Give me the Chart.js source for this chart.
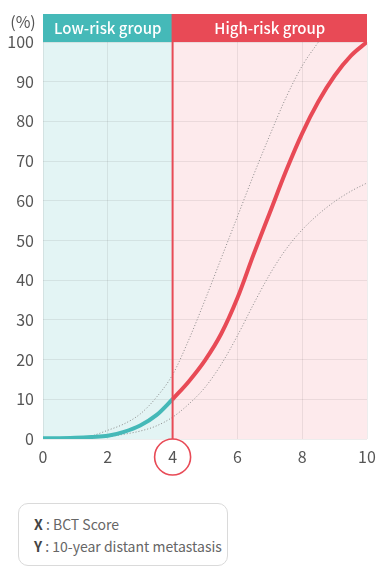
<!DOCTYPE html>
<html>
<head>
<meta charset="utf-8">
<script src="https://cdn.jsdelivr.net/npm/chart.js@4"></script>
<style>
  html, body { margin: 0; padding: 0; background: #fff; }
  body { width: 386px; height: 583px; position: relative; overflow: hidden; font-family: "Noto Sans CJK KR", "Noto Sans", sans-serif; }
  #wrap { position: absolute; left: 0; top: 0; width: 386px; height: 480px; }
  .note {
    position: absolute; left: 18px; top: 503px; width: 208px; height: 61px;
    border: 1px solid #dadada; border-radius: 10px; box-sizing: content-box;
    color: #666; font-size: 14px; line-height: 22px; white-space: nowrap;
  }
  .note div { padding-left: 15px; }
  .note div:first-child { margin-top: 9px; }
  .note b { color: #444; font-weight: 700; }
</style>
</head>
<body>
<div id="wrap"><canvas id="riskChart" width="386" height="480"></canvas></div>
<div class="note">
  <div><b>X</b> : BCT Score</div>
  <div><b>Y</b> : 10-year distant metastasis</div>
</div>
<script>
// BCT score (x) and 10-year distant metastasis (%)
const lowScores   = [0, 0.5, 1, 1.5, 2, 2.5, 3, 3.5, 4];
const lowRisk     = [0.2, 0.2, 0.3, 0.5, 0.8, 1.8, 3.4, 6, 10];
const highScores  = [4, 4.5, 5, 5.5, 6, 6.5, 7, 7.5, 8, 8.5, 9, 9.5, 10];
const highRisk    = [10, 14.5, 19.8, 26.5, 35.5, 46.5, 57, 67.5, 77, 85, 91.5, 96.5, 100];

const upperScores = [0, 0.5, 1, 1.5, 2, 2.5, 3, 3.5, 4, 4.5, 5, 5.5, 6, 6.5, 7, 7.5, 8, 8.5];
const upperBound  = [0, 0, 0.2, 0.8, 2.2, 3.8, 6.3, 10.5, 16.2, 25, 35, 45.5, 56, 66.5, 76.5, 86, 94, 100];
const lowerScores = [0, 0.5, 1, 1.5, 2, 2.5, 3, 3.5, 4, 4.5, 5, 5.5, 6, 6.5, 7, 7.5, 8, 8.5, 9, 9.5, 10];
const lowerBound  = [0, 0, 0.1, 0.3, 0.6, 1.2, 2, 3.3, 5.5, 8.8, 13, 18.8, 26, 34, 41.5, 47.8, 52.7, 56.6, 59.8, 62.4, 64.5];

const xTicks = [0, 2, 4, 6, 8, 10];
const yTicks = [0, 10, 20, 30, 40, 50, 60, 70, 80, 90, 100];
const cutoffScore = 4;
const groupLabels = ["Low-risk group", "High-risk group"];

const TEAL = "#45b9b8";
const RED = "#e84a56";
const FONT = "'Noto Sans CJK KR', 'Noto Sans', sans-serif";

function pts(xs, ys) {
    return xs.map((x, i) => ({ x: x, y: ys[i] }));
}

// bands, header and the cutoff marker
const riskZones = {
    id: "riskZones",
    beforeDraw(chart) {
        const { ctx, chartArea: a, scales: { x } } = chart;
        const cx = x.getPixelForValue(cutoffScore);
        ctx.save();
        ctx.fillStyle = "#e3f4f4";
        ctx.fillRect(a.left, a.top, cx - a.left, a.bottom - a.top);
        ctx.fillStyle = "#fdeaec";
        ctx.fillRect(cx, a.top, a.right - cx, a.bottom - a.top);
        ctx.restore();
    },
    afterDraw(chart) {
        const { ctx, chartArea: a, scales: { x } } = chart;
        const cx = x.getPixelForValue(cutoffScore);
        const top = 14;
        ctx.save();
        // header
        ctx.fillStyle = TEAL;
        ctx.fillRect(a.left, top, cx - a.left, a.top - top);
        ctx.fillStyle = RED;
        ctx.fillRect(cx, top, a.right - cx, a.top - top);
        ctx.fillStyle = "#fff";
        ctx.font = "500 15px " + FONT;
        ctx.textAlign = "center";
        ctx.textBaseline = "middle";
        ctx.fillText(groupLabels[0], (a.left + cx) / 2, (top + a.top) / 2);
        ctx.fillText(groupLabels[1], (cx + a.right) / 2, (top + a.top) / 2);
        // (%) unit
        ctx.fillStyle = "#555";
        ctx.font = "16px " + FONT;
        ctx.fillText("(%)", 23, 22);
        // cutoff line + circled tick
        const r = 18, cy = a.bottom + r;
        ctx.strokeStyle = RED;
        ctx.lineWidth = 2;
        ctx.beginPath();
        ctx.moveTo(cx, top);
        ctx.lineTo(cx, a.bottom);
        ctx.stroke();
        ctx.lineWidth = 1.6;
        ctx.beginPath();
        ctx.arc(cx, cy, r, 0, Math.PI * 2);
        ctx.stroke();
        ctx.restore();
    }
};

const ctx = document.getElementById("riskChart").getContext("2d");
new Chart(ctx, {
    type: "line",
    data: {
        datasets: [
            {
                data: pts(lowScores, lowRisk),
                borderColor: TEAL,
                borderWidth: 4,
                cubicInterpolationMode: "monotone",
                order: 1
            },
            {
                data: pts(highScores, highRisk),
                borderColor: RED,
                borderWidth: 4,
                cubicInterpolationMode: "monotone",
                order: 0
            },
            {
                data: pts(upperScores, upperBound),
                borderColor: "#8a8a8a",
                borderWidth: 1,
                borderDash: [1, 2],
                cubicInterpolationMode: "monotone",
                order: 3
            },
            {
                data: pts(lowerScores, lowerBound),
                borderColor: "#8a8a8a",
                borderWidth: 1,
                borderDash: [1, 2],
                cubicInterpolationMode: "monotone",
                order: 3
            }
        ]
    },
    options: {
        responsive: false,
        animation: false,
        devicePixelRatio: 1,
        elements: { point: { radius: 0 } },
        layout: { padding: { top: 42, right: 19, left: 0, bottom: 0 } },
        plugins: {
            legend: { display: false },
            tooltip: { enabled: false }
        },
        scales: {
            x: {
                type: "linear",
                min: 0,
                max: 10,
                afterBuildTicks: (s) => { s.ticks = xTicks.map(v => ({ value: v })); },
                afterFit: (s) => { s.height = 41; },
                ticks: { color: "#555", font: { family: FONT, size: 16 }, padding: 8, maxRotation: 0 },
                grid: { color: "rgba(0,0,0,0.07)", drawTicks: false },
                border: { display: false }
            },
            y: {
                min: 0,
                max: 100,
                afterBuildTicks: (s) => { s.ticks = yTicks.map(v => ({ value: v })); },
                afterFit: (s) => { s.width = 43; },
                ticks: { color: "#555", font: { family: FONT, size: 16 }, padding: 9 },
                grid: { color: "rgba(0,0,0,0.07)", drawTicks: false },
                border: { display: false }
            }
        }
    },
    plugins: [riskZones]
});
</script>
</body>
</html>
